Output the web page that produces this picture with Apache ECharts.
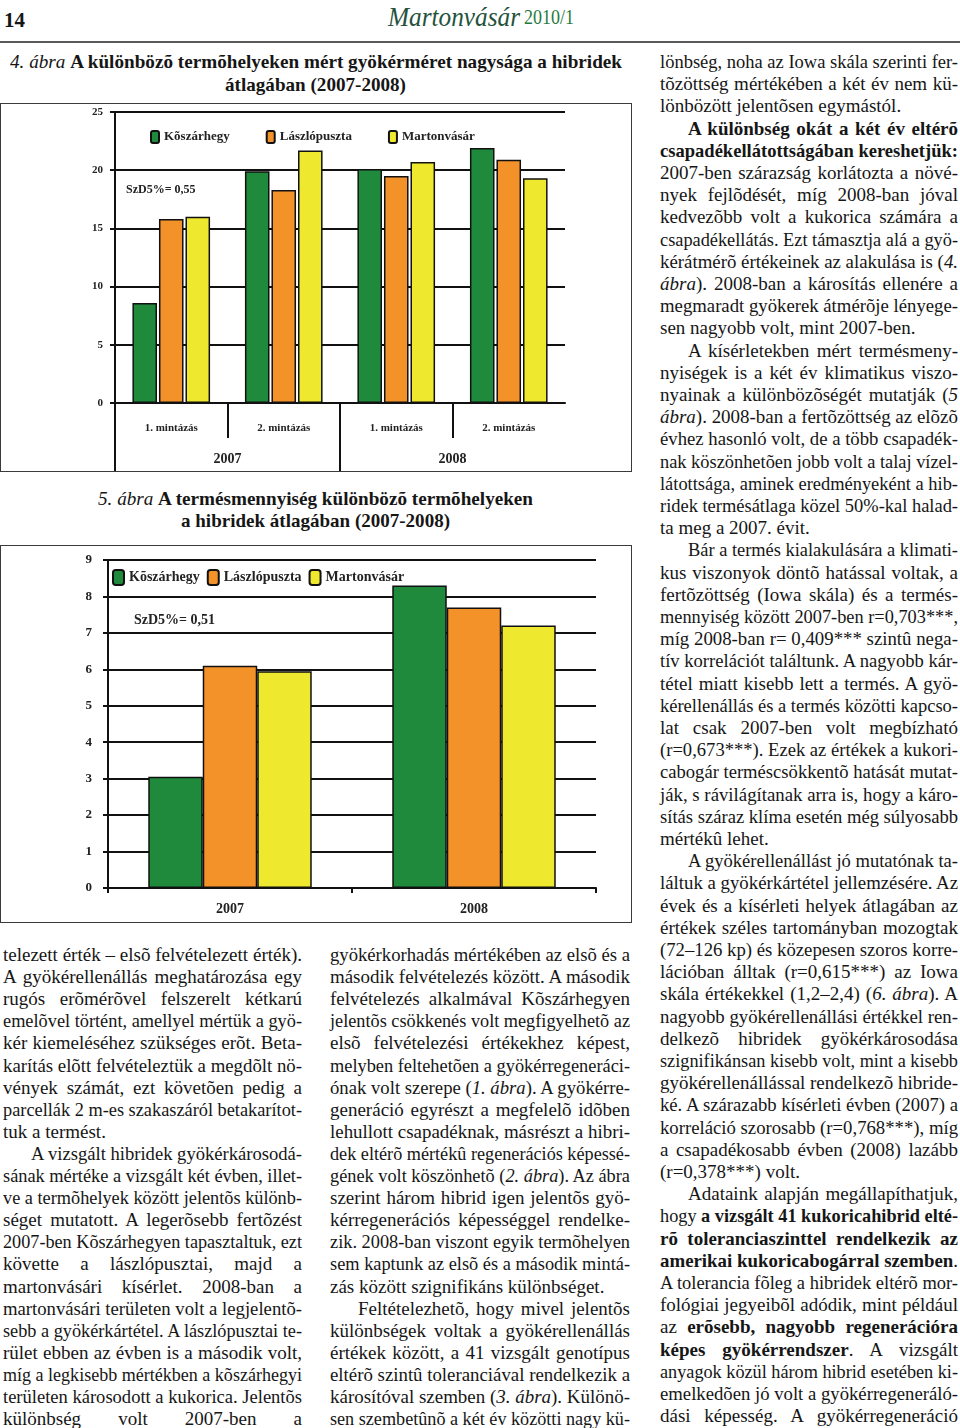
<!DOCTYPE html>
<html>
<head>
<meta charset="utf-8">
<script src="https://cdn.jsdelivr.net/npm/echarts@6/dist/echarts.min.js"></script>
<style>
  html, body { margin: 0; padding: 0; background: #fff; }
  #page { position: relative; width: 960px; height: 1428px; overflow: hidden; background: #fff; }
  .ln { position: absolute; white-space: nowrap; font-family: 'Liberation Serif', 'Times New Roman', serif; font-size: 19px; line-height: 22px; color: #161616; transform-origin: 0 50%; }
  .box { position: absolute; box-sizing: border-box; border: 1px solid #3a3a3a; background: #fff; }
  #rule { position: absolute; left: 0; top: 41px; width: 960px; height: 2px; background: #5a5a5a; }
</style>
</head>
<body>
<div id="page">
  <div id="rule"></div>
  <div id="c1" class="box" style="left:0px; top:103px; width:632px; height:369px;"></div>
  <div id="c2" class="box" style="left:0px; top:545px; width:632px; height:378px;"></div>
</div>
<script>
// ---------- DATA ----------
const sites = ['Kõszárhegy', 'Lászlópuszta', 'Martonvásár'];
const sampling = ['1. mintázás', '2. mintázás', '1. mintázás', '2. mintázás'];
const years = ['2007', '2008'];
// Figure 4: root size
const rootKoszarhegy = [8.6, 19.9, 20.1, 21.9];
const rootLaszlopuszta = [15.8, 18.3, 19.5, 20.9];
const rootMartonvasar = [16.0, 21.7, 20.7, 19.3];
const rootTicks = [0, 5, 10, 15, 20, 25];
// Figure 5: yield
const yieldKoszarhegy = [3.05, 8.3];
const yieldLaszlopuszta = [6.1, 7.7];
const yieldMartonvasar = [5.95, 7.2];
const yieldTicks = [0, 1, 2, 3, 4, 5, 6, 7, 8, 9];
const lsd1 = 'SzD5%= 0,55';
const lsd2 = 'SzD5%= 0,51';

// ---------- TEXT ----------
const title4 = ['<i>4. ábra</i> <b>A különbözõ termõhelyeken mért gyökérméret nagysága a hibridek</b>', '<b>átlagában (2007-2008)</b>'];
const title5 = ['<i>5. ábra</i> <b>A termésmennyiség különbözõ termõhelyeken</b>', '<b>a hibridek átlagában (2007-2008)</b>'];

const leftLines = [
 ['j','telezett érték – elsõ felvételezett érték).'],
 ['j','A gyökérellenállás meghatározása egy'],
 ['j','rugós erõmérõvel felszerelt kétkarú'],
 ['j','emelõvel történt, amellyel mértük a gyö-'],
 ['j','kér kiemeléséhez szükséges erõt. Beta-'],
 ['j','karítás elõtt felvételeztük a megdõlt nö-'],
 ['j','vények számát, ezt követõen pedig a'],
 ['j','parcellák 2 m-es szakaszáról betakarítot-'],
 ['l','tuk a termést.'],
 ['ij','A vizsgált hibridek gyökérkárosodá-'],
 ['j','sának mértéke a vizsgált két évben, illet-'],
 ['j','ve a termõhelyek között jelentõs különb-'],
 ['j','séget mutatott. A legerõsebb fertõzést'],
 ['j','2007-ben Kõszárhegyen tapasztaltuk, ezt'],
 ['j','követte a lászlópusztai, majd a'],
 ['j','martonvásári kísérlet. 2008-ban a'],
 ['j','martonvásári területen volt a legjelentõ-'],
 ['j','sebb a gyökérkártétel. A lászlópusztai te-'],
 ['j','rület ebben az évben is a második volt,'],
 ['j','míg a legkisebb mértékben a kõszárhegyi'],
 ['j','területen károsodott a kukorica. Jelentõs'],
 ['j','különbség volt 2007-ben a']
];
const midLines = [
 ['j','gyökérkorhadás mértékében az elsõ és a'],
 ['j','második felvételezés között. A második'],
 ['j','felvételezés alkalmával Kõszárhegyen'],
 ['j','jelentõs csökkenés volt megfigyelhetõ az'],
 ['j','elsõ felvételezési értékekhez képest,'],
 ['j','melyben feltehetõen a gyökérregeneráci-'],
 ['j','ónak volt szerepe (<i>1. ábra</i>). A gyökérre-'],
 ['j','generáció egyrészt a megfelelõ idõben'],
 ['j','lehullott csapadéknak, másrészt a hibri-'],
 ['j','dek eltérõ mértékû regenerációs képessé-'],
 ['j','gének volt köszönhetõ (<i>2. ábra</i>). Az ábra'],
 ['j','szerint három hibrid igen jelentõs gyö-'],
 ['j','kérregenerációs képességgel rendelke-'],
 ['j','zik. 2008-ban viszont egyik termõhelyen'],
 ['j','sem kaptunk az elsõ és a második mintá-'],
 ['l','zás között szignifikáns különbséget.'],
 ['ij','Feltételezhetõ, hogy mivel jelentõs'],
 ['j','különbségek voltak a gyökérellenállás'],
 ['j','értékek között, a 41 vizsgált genotípus'],
 ['j','eltérõ szintû toleranciával rendelkezik a'],
 ['j','károsítóval szemben (<i>3. ábra</i>). Különö-'],
 ['j','sen szembetûnõ a két év közötti nagy kü-']
];
const rightLines = [
 ['j','lönbség, noha az Iowa skála szerinti fer-'],
 ['j','tõzöttség mértékében a két év nem kü-'],
 ['l','lönbözött jelentõsen egymástól.'],
 ['ij','<b>A különbség okát a két év eltérõ</b>'],
 ['j','<b>csapadékellátottságában kereshetjük:</b>'],
 ['j','2007-ben szárazság korlátozta a növé-'],
 ['j','nyek fejlõdését, míg 2008-ban jóval'],
 ['j','kedvezõbb volt a kukorica számára a'],
 ['j','csapadékellátás. Ezt támasztja alá a gyö-'],
 ['j','kérátmérõ értékeinek az alakulása is (<i>4.</i>'],
 ['j','<i>ábra</i>). 2008-ban a károsítás ellenére a'],
 ['j','megmaradt gyökerek átmérõje lényege-'],
 ['l','sen nagyobb volt, mint 2007-ben.'],
 ['ij','A kísérletekben mért termésmeny-'],
 ['j','nyiségek is a két év klimatikus viszo-'],
 ['j','nyainak a különbözõségét mutatják (<i>5</i>'],
 ['j','<i>ábra</i>). 2008-ban a fertõzöttség az elõzõ'],
 ['j','évhez hasonló volt, de a több csapadék-'],
 ['j','nak köszönhetõen jobb volt a talaj vízel-'],
 ['j','látottsága, aminek eredményeként a hib-'],
 ['j','ridek termésátlaga közel 50%-kal halad-'],
 ['l','ta meg a 2007. évit.'],
 ['ij','Bár a termés kialakulására a klimati-'],
 ['j','kus viszonyok döntõ hatással voltak, a'],
 ['j','fertõzöttség (Iowa skála) és a termés-'],
 ['j','mennyiség között 2007-ben r=0,703***,'],
 ['j','míg 2008-ban r= 0,409*** szintû nega-'],
 ['j','tív korrelációt találtunk. A nagyobb kár-'],
 ['j','tétel miatt kisebb lett a termés. A gyö-'],
 ['j','kérellenállás és a termés közötti kapcso-'],
 ['j','lat csak 2007-ben volt megbízható'],
 ['j','(r=0,673***). Ezek az értékek a kukori-'],
 ['j','cabogár terméscsökkentõ hatását mutat-'],
 ['j','ják, s rávilágítanak arra is, hogy a káro-'],
 ['j','sítás száraz klíma esetén még súlyosabb'],
 ['l','mértékû lehet.'],
 ['ij','A gyökérellenállást jó mutatónak ta-'],
 ['j','láltuk a gyökérkártétel jellemzésére. Az'],
 ['j','évek és a kísérleti helyek átlagában az'],
 ['j','értékek széles tartományban mozogtak'],
 ['j','(72–126 kp) és közepesen szoros korre-'],
 ['j','lációban álltak (r=0,615***) az Iowa'],
 ['j','skála értékekkel (1,2–2,4) (<i>6. ábra</i>). A'],
 ['j','nagyobb gyökérellenállási értékkel ren-'],
 ['j','delkezõ hibridek gyökérkárosodása'],
 ['j','szignifikánsan kisebb volt, mint a kisebb'],
 ['j','gyökérellenállással rendelkezõ hibride-'],
 ['j','ké. A szárazabb kísérleti évben (2007) a'],
 ['j','korreláció szorosabb (r=0,768***), míg'],
 ['j','a csapadékosabb évben (2008) lazább'],
 ['l','(r=0,378***) volt.'],
 ['ij','Adataink alapján megállapíthatjuk,'],
 ['j','hogy <b>a vizsgált 41 kukoricahibrid elté-</b>'],
 ['j','<b>rõ toleranciaszinttel rendelkezik az</b>'],
 ['j','<b>amerikai kukoricabogárral szemben</b>.'],
 ['j','A tolerancia fõleg a hibridek eltérõ mor-'],
 ['j','fológiai jegyeibõl adódik, mint például'],
 ['j','az <b>erõsebb, nagyobb regenerációra</b>'],
 ['j','<b>képes gyökérrendszer</b>. A vizsgált'],
 ['j','anyagok közül három hibrid esetében ki-'],
 ['j','emelkedõen jó volt a gyökérregeneráló-'],
 ['j','dási képesség. A gyökérregeneráció']
];

// ---------- TEXT LAYOUT ----------
const page = document.getElementById('page');
const S0 = 1.0, LH = 22, INDENT = 28;
function place(html, x, yc, T, mode, style) {
  const d = document.createElement('div');
  d.className = 'ln';
  const s = document.createElement('span');
  s.innerHTML = html;
  d.appendChild(s);
  if (style) Object.assign(d.style, style);
  d.style.top = (yc - LH / 2) + 'px';
  d.style.left = x + 'px';
  page.appendChild(d);
  const w = s.getBoundingClientRect().width;
  const n = (s.textContent.match(/ /g) || []).length;
  let sc = S0;
  if (mode === 'j') {
    sc = Math.min(S0, T / w);
    const ws = n ? (T / sc - w) / n : 0;
    d.style.wordSpacing = ws + 'px';
  } else if (mode === 'c') {
    sc = T / w;
    d.style.left = (x - T / 2) + 'px';
  }
  d.style.transform = 'scaleX(' + sc + ')';
}
function column(lines, x, y0, W, step) {
  lines.forEach((ln, i) => {
    const ind = ln[0] === 'ij';
    const mode = ln[0] === 'l' ? 'l' : 'j';
    place(ln[1], x + (ind ? INDENT : 0), y0 + i * step, W - (ind ? INDENT : 0), mode);
  });
}
column(leftLines, 3, 955, 299, 22.1);
column(midLines, 330, 955, 300, 22.1);
column(rightLines, 660, 62, 298, 22.2);
place(title4[0], 316, 62, 612, 'c');
place(title4[1], 315, 85, 181, 'c');
place(title5[0], 315.5, 499, 435, 'c');
place(title5[1], 315.5, 521, 269, 'c');
// header
place('<b>14</b>', 14.5, 20, 21, 'c', {fontSize: '22px'});
place('<i>Martonvásár</i>', 454, 17, 132, 'c', {fontSize: '27px', color: '#24523c'});
place('2010/1', 549, 17, 50, 'c', {fontSize: '22px', color: '#1f7a40'});

// ---------- CHARTS ----------
const FF = "'Liberation Serif', 'Times New Roman', serif";
const GREEN = '#1f8a3c', ORANGE = '#f4922a', YELLOW = '#eee92f', INK = '#111';
function barSeries(name, data, color, gap, catGap) {
  return { name, type: 'bar', data, barGap: gap, barCategoryGap: catGap,
    itemStyle: { color, borderColor: INK, borderWidth: 1.5 } };
}
const perYear = sampling.length / years.length;

const ch1 = echarts.init(document.getElementById('c1'));
ch1.setOption({
  animation: false,
  textStyle: { fontFamily: FF },
  grid: { left: 114, right: 66, top: 8, bottom: 68 },
  title: { text: lsd1, left: 120, top: 75, textStyle: { fontFamily: FF, fontSize: 12, fontWeight: 'bold', color: '#222' } },
  legend: { data: sites, left: 144, top: 21, itemWidth: 8, itemHeight: 12, itemGap: 36,
    textStyle: { fontFamily: FF, fontSize: 13, fontWeight: 'bold', color: '#222' } },
  xAxis: [
    { type: 'category', data: sampling, position: 'bottom',
      axisLine: { lineStyle: { color: INK, width: 2 } },
      axisTick: { show: false },
      axisLabel: { margin: 20, fontFamily: FF, fontSize: 11, fontWeight: 'bold', color: '#222' } },
    // year level of the two-level category axis
    { type: 'value', position: 'bottom', min: 0, max: years.length,
      axisLine: { show: false }, splitLine: { show: false },
      axisTick: { show: true, length: 68, customValues: years.map((y, i) => i), lineStyle: { color: INK, width: 2 } },
      axisLabel: { margin: 49, customValues: years.map((y, i) => i + 0.5),
        formatter: v => years[Math.floor(v)] || '',
        fontFamily: FF, fontSize: 14, fontWeight: 'bold', color: '#222' } },
    // short separators between samplings inside a year
    { type: 'value', position: 'bottom', min: 0, max: sampling.length,
      axisLine: { show: false }, splitLine: { show: false }, axisLabel: { show: false },
      axisTick: { show: true, length: 35, customValues: sampling.map((s, i) => i).filter(i => i % perYear !== 0),
        lineStyle: { color: INK, width: 2 } } }
  ],
  yAxis: { type: 'value', min: rootTicks[0], max: rootTicks[rootTicks.length - 1], interval: rootTicks[1] - rootTicks[0],
    axisLine: { show: true, lineStyle: { color: INK, width: 2 } },
    axisTick: { show: true, length: 5, lineStyle: { color: INK, width: 2 } },
    axisLabel: { margin: 12, fontFamily: FF, fontSize: 11, fontWeight: 'bold', color: '#222' },
    splitLine: { lineStyle: { color: INK, width: 2 } } },
  series: [
    barSeries(sites[0], rootKoszarhegy, GREEN, '8%', '31%'),
    barSeries(sites[1], rootLaszlopuszta, ORANGE, '8%', '31%'),
    barSeries(sites[2], rootMartonvasar, YELLOW, '8%', '31%')
  ]
});

const ch2 = echarts.init(document.getElementById('c2'));
ch2.setOption({
  animation: false,
  textStyle: { fontFamily: FF },
  grid: { left: 107, right: 35, top: 14, bottom: 34 },
  title: { text: lsd2, left: 128, top: 62, textStyle: { fontFamily: FF, fontSize: 14, fontWeight: 'bold', color: '#222' } },
  legend: { data: sites, left: 106, top: 18, itemWidth: 11, itemHeight: 15, itemGap: 7,
    textStyle: { fontFamily: FF, fontSize: 14, fontWeight: 'bold', color: '#222' } },
  xAxis: { type: 'category', data: years,
    axisLine: { lineStyle: { color: INK, width: 2 } },
    axisTick: { show: true, length: 5, lineStyle: { color: INK, width: 2 } },
    axisLabel: { margin: 14, fontFamily: FF, fontSize: 14, fontWeight: 'bold', color: '#222' } },
  yAxis: { type: 'value', min: yieldTicks[0], max: yieldTicks[yieldTicks.length - 1], interval: yieldTicks[1] - yieldTicks[0],
    axisLine: { show: true, lineStyle: { color: INK, width: 2 } },
    axisTick: { show: true, length: 5, lineStyle: { color: INK, width: 2 } },
    axisLabel: { margin: 16, fontFamily: FF, fontSize: 13, fontWeight: 'bold', color: '#222' },
    splitLine: { lineStyle: { color: INK, width: 2 } } },
  series: [
    barSeries(sites[0], yieldKoszarhegy, GREEN, '0%', '33%'),
    barSeries(sites[1], yieldLaszlopuszta, ORANGE, '0%', '33%'),
    barSeries(sites[2], yieldMartonvasar, YELLOW, '0%', '33%')
  ]
});
</script>
</body>
</html>
